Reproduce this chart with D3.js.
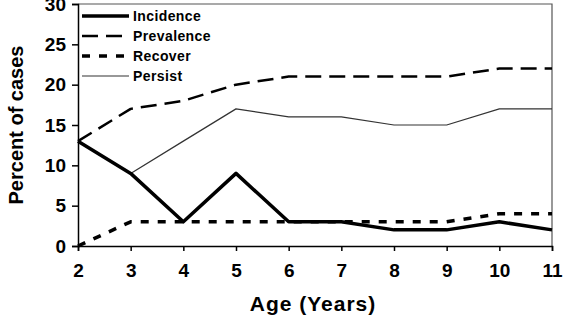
<!DOCTYPE html>
<html lang="en">
  <head>
    <meta charset="utf-8" />
    <title>Percent of cases by age</title>
    <script src="https://cdn.jsdelivr.net/npm/d3@7"></script>
    <style>
      body { margin: 0; background: white; }
      svg { display: block; }
    </style>
  </head>
  <body>
    <script>
      // chart data
      const ages = [2, 3, 4, 5, 6, 7, 8, 9, 10, 11];
      const incidence = [13, 9, 3, 9, 3, 3, 2, 2, 3, 2];
      const prevalence = [13, 17, 18, 20, 21, 21, 21, 21, 22, 22];
      const recover = [0, 3, 3, 3, 3, 3, 3, 3, 4, 4];
      const persist = [null, 9, 13, 17, 16, 16, 15, 15, 17, 17];
      const yTicks = [0, 5, 10, 15, 20, 25, 30];

      const series = [
        { name: "Incidence", values: incidence, width: 3.5, dash: null, color: "#000" },
        { name: "Prevalence", values: prevalence, width: 2.5, dash: "16,8", color: "#000" },
        { name: "Recover", values: recover, width: 3.5, dash: "8,9", color: "#000" },
        { name: "Persist", values: persist, width: 1.2, dash: null, color: "#333" }
      ];

      const width = 569, height = 321;
      const margin = { top: 4, right: 17, bottom: 75, left: 78 };

      const svg = d3.select("body").append("svg")
        .attr("width", width)
        .attr("height", height);

      const x = d3.scaleLinear()
        .domain([2, 11])
        .range([margin.left, width - margin.right]);
      const y = d3.scaleLinear()
        .domain([0, 30])
        .range([height - margin.bottom, margin.top]);

      // frame (top + right)
      svg.append("path")
        .attr("d", `M${x(2)},${y(30)}H${x(11)}V${y(0)}`)
        .attr("fill", "none")
        .attr("stroke", "#555")
        .attr("stroke-width", 1.2);

      const font = "Liberation Sans, Arial, sans-serif";

      // y axis
      const yAxis = svg.append("g")
        .attr("transform", `translate(${x(2)},0)`)
        .call(d3.axisLeft(y).tickValues(yTicks).tickSize(6).tickPadding(6));
      // x axis
      const xAxis = svg.append("g")
        .attr("transform", `translate(0,${y(0)})`)
        .call(d3.axisBottom(x).tickValues(ages).tickFormat(d3.format("d")).tickSize(5).tickPadding(13));

      [yAxis, xAxis].forEach(g => {
        g.select(".domain").attr("stroke", "#000").attr("stroke-width", 1.5);
        g.selectAll(".tick line").attr("stroke", "#000").attr("stroke-width", 1.5);
        g.selectAll(".tick text")
          .attr("fill", "#000")
          .style("font-family", font)
          .style("font-weight", "bold")
          .style("font-size", "19px");
      });

      // lines
      const line = d3.line()
        .defined(d => d[1] != null)
        .x(d => x(d[0]))
        .y(d => y(d[1]));

      series.slice().reverse().forEach(s => {
        svg.append("path")
          .datum(ages.map((a, i) => [a, s.values[i]]))
          .attr("d", line)
          .attr("fill", "none")
          .attr("stroke", s.color)
          .attr("stroke-width", s.width)
          .attr("stroke-dasharray", s.dash)
          .attr("stroke-linejoin", "round");
      });

      // legend
      const legend = svg.append("g").attr("transform", "translate(82,16)");
      series.forEach((s, i) => {
        const row = legend.append("g").attr("transform", `translate(0,${i * 20})`);
        row.append("line")
          .attr("x1", 0).attr("x2", 47)
          .attr("stroke", s.color)
          .attr("stroke-width", s.width)
          .attr("stroke-dasharray", s.dash);
        row.append("text")
          .attr("x", 51)
          .attr("dy", "0.35em")
          .text(s.name)
          .style("font-family", font)
          .style("font-weight", "bold")
          .style("font-size", "14px")
          .style("letter-spacing", "0.4px");
      });

      // axis titles
      svg.append("text")
        .attr("transform", `translate(23,${(y(0) + y(30)) / 2}) rotate(-90)`)
        .attr("text-anchor", "middle")
        .text("Percent of cases")
        .style("font-family", font)
        .style("font-weight", "bold")
        .style("font-size", "20px");

      svg.append("text")
        .attr("x", (x(2) + x(11)) / 2 - 2)
        .attr("y", 311)
        .attr("text-anchor", "middle")
        .text("Age (Years)")
        .style("font-family", font)
        .style("font-weight", "bold")
        .style("font-size", "21px")
        .style("letter-spacing", "1px");
    </script>
  </body>
</html>
